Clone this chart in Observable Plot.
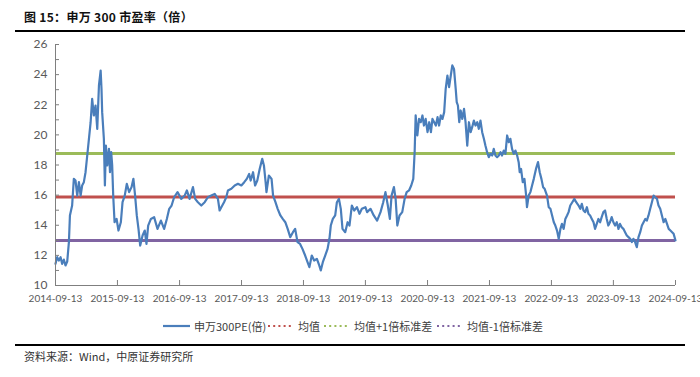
<!DOCTYPE html>
<html><head><meta charset="utf-8">
<script src="https://cdn.jsdelivr.net/npm/d3@7"></script>
<script src="https://cdn.jsdelivr.net/npm/@observablehq/plot@0.6"></script>
<style>
html,body{margin:0;padding:0;background:#fff;}
#wrap{position:relative;width:700px;height:377px;overflow:hidden;font-family:"Noto Sans CJK SC","Noto Sans",sans-serif;}
#title{position:absolute;left:24px;top:8px;font-size:12px;font-weight:bold;color:#111;letter-spacing:0.3px;}
#rule1{position:absolute;left:15px;width:670px;top:30px;height:2px;background:#000;}
#chart{position:absolute;left:0;top:34px;}
#legend{position:absolute;top:316px;left:0;width:700px;height:20px;font-size:11px;color:#404040;}
#legend .it{position:absolute;top:0;display:flex;align-items:center;height:20px;white-space:nowrap;}
#rule2{position:absolute;left:15px;width:670px;top:344px;height:1.5px;background:#000;}
#source{position:absolute;left:24px;top:348px;font-size:11px;color:#333;}
</style></head>
<body><div id="wrap">
<div id="title">图 15：申万 300 市盈率（倍）</div>
<div id="rule1"></div>
<div id="chart"></div>
<div id="legend"></div>
<div id="rule2"></div>
<div id="source">资料来源：Wind，中原证券研究所</div>
</div>
<script>
const dates = [
"2014-09-13","2014-09-23","2014-10-03","2014-10-13","2014-10-22","2014-11-01","2014-11-11","2014-11-21","2014-12-01","2014-12-07","2014-12-20","2014-12-30",
"2015-01-09","2015-01-19","2015-01-29","2015-02-08","2015-02-17","2015-02-27","2015-03-09","2015-03-19","2015-03-29","2015-04-08","2015-04-17","2015-04-27",
"2015-05-07","2015-05-17","2015-05-27","2015-06-06","2015-06-11","2015-06-15","2015-06-25","2015-07-01","2015-07-07","2015-07-15","2015-07-25","2015-07-31",
"2015-08-07","2015-08-13","2015-08-19","2015-08-27","2015-09-08","2015-09-19","2015-10-03","2015-10-13","2015-10-26","2015-11-07","2015-11-21","2015-12-05",
"2015-12-16","2015-12-26","2016-01-05","2016-01-15","2016-01-25","2016-02-08","2016-02-21","2016-03-02","2016-03-12","2016-03-28","2016-04-16","2016-05-06",
"2016-05-26","2016-06-14","2016-06-30","2016-07-14","2016-07-28","2016-08-12","2016-09-01","2016-09-23","2016-10-13","2016-10-26","2016-11-11","2016-12-01",
"2016-12-14","2016-12-30","2017-01-19","2017-02-08","2017-02-27","2017-03-19","2017-04-08","2017-04-27","2017-05-07","2017-05-17","2017-06-02","2017-06-15",
"2017-06-25","2017-07-15","2017-08-04","2017-08-23","2017-09-12","2017-09-29","2017-10-14","2017-10-28","2017-11-06","2017-11-20","2017-12-02","2017-12-15",
"2017-12-29","2018-01-13","2018-01-23","2018-02-02","2018-02-07","2018-02-21","2018-03-09","2018-03-18","2018-04-01","2018-04-14","2018-04-30","2018-05-14",
"2018-05-29","2018-06-12","2018-06-27","2018-07-13","2018-07-26","2018-08-09","2018-08-24","2018-09-07","2018-09-23","2018-10-07","2018-10-18","2018-11-01",
"2018-11-15","2018-12-01","2018-12-15","2018-12-24","2019-01-05","2019-01-19","2019-02-02","2019-02-13","2019-02-21","2019-03-05","2019-03-19","2019-03-29",
"2019-04-10","2019-04-21","2019-05-01","2019-05-17","2019-05-31","2019-06-11","2019-06-25","2019-07-09","2019-07-25","2019-08-09","2019-08-23","2019-09-13",
"2019-09-23","2019-10-13","2019-11-01","2019-11-21","2019-12-11","2019-12-27","2020-01-09","2020-01-23","2020-02-04","2020-02-14","2020-02-28","2020-03-09",
"2020-03-19","2020-04-01","2020-04-17","2020-05-01","2020-05-13","2020-05-27","2020-06-09","2020-06-21","2020-06-29","2020-07-05","2020-07-15","2020-07-25",
"2020-08-04","2020-08-14","2020-08-23","2020-09-02","2020-09-13","2020-09-23","2020-10-03","2020-10-12","2020-10-22","2020-11-01","2020-11-11","2020-11-20",
"2020-11-30","2020-12-10","2020-12-20","2020-12-29","2021-01-08","2021-01-18","2021-01-28","2021-02-06","2021-02-16","2021-02-26","2021-03-04","2021-03-11",
"2021-03-19","2021-03-27","2021-04-06","2021-04-16","2021-04-25","2021-05-05","2021-05-15","2021-05-25","2021-06-03","2021-06-13","2021-06-23","2021-07-03",
"2021-07-12","2021-07-22","2021-08-01","2021-08-11","2021-08-20","2021-08-30","2021-09-09","2021-09-19","2021-09-29","2021-10-08","2021-10-18","2021-10-28",
"2021-11-07","2021-11-17","2021-11-26","2021-12-06","2021-12-16","2021-12-26","2022-01-05","2022-01-14","2022-01-24","2022-02-03","2022-02-13","2022-02-23",
"2022-03-04","2022-03-10","2022-03-18","2022-03-28","2022-04-07","2022-04-17","2022-04-22","2022-05-02","2022-05-12","2022-05-22","2022-06-01","2022-06-14",
"2022-06-26","2022-07-06","2022-07-16","2022-07-26","2022-08-04","2022-08-18","2022-08-28","2022-09-07","2022-09-17","2022-09-27","2022-10-06","2022-10-16",
"2022-10-26","2022-11-05","2022-11-14","2022-11-24","2022-12-04","2022-12-14","2022-12-23","2023-01-02","2023-01-14","2023-01-26","2023-02-06","2023-02-20",
"2023-03-02","2023-03-11","2023-03-21","2023-03-31","2023-04-10","2023-04-19","2023-04-29","2023-05-09","2023-05-19","2023-05-28","2023-06-07","2023-06-17",
"2023-06-27","2023-07-06","2023-07-16","2023-07-26","2023-08-05","2023-08-14","2023-08-24","2023-09-03","2023-09-13","2023-09-23","2023-10-03","2023-10-13",
"2023-10-22","2023-11-01","2023-11-11","2023-11-21","2023-12-01","2023-12-11","2023-12-21","2023-12-31","2024-01-09","2024-01-19","2024-01-29","2024-02-08",
"2024-02-18","2024-02-28","2024-03-09","2024-03-19","2024-03-28","2024-04-07","2024-04-17","2024-04-27","2024-05-07","2024-05-17","2024-05-27","2024-06-05",
"2024-06-15","2024-06-25","2024-07-05","2024-07-15","2024-07-25","2024-08-04","2024-08-14","2024-08-24","2024-09-02","2024-09-13"
];
const pe = [
11.44,11.88,11.66,11.88,11.44,11.72,11.33,11.59,12.88,14.65,15.31,17.08,
16.97,15.97,16.86,15.97,16.64,16.86,17.52,18.63,19.74,20.84,22.39,21.29,
21.95,20.40,23.28,24.27,23.06,21.51,19.74,16.64,19.29,17.97,19.07,17.52,
18.85,17.97,15.97,14.20,14.42,13.65,14.20,15.53,15.97,16.75,16.20,16.53,
17.08,15.97,14.65,13.76,12.65,13.32,13.65,12.76,13.98,14.42,14.54,13.76,
14.31,13.76,14.42,15.09,15.31,15.86,16.20,15.75,15.97,16.31,15.75,16.53,
15.75,15.53,15.31,15.53,15.86,15.97,16.08,15.75,14.98,15.20,15.53,15.86,
16.31,16.42,16.64,16.75,16.64,16.86,17.08,17.41,16.97,17.52,16.64,16.97,
17.74,18.41,17.97,16.86,16.20,17.30,17.08,15.97,15.53,15.09,14.65,14.42,
14.20,13.76,13.21,13.54,13.76,12.88,12.76,12.43,11.99,11.55,11.22,11.99,
11.66,11.77,11.33,11.00,11.55,11.99,12.43,13.10,13.98,14.42,14.65,15.53,
15.75,15.09,13.76,13.54,14.20,13.98,15.31,14.98,15.20,14.76,15.09,15.20,
14.87,15.09,14.65,14.31,14.87,15.53,16.20,15.31,14.42,15.97,16.53,15.75,
13.98,14.65,14.87,15.75,16.20,16.31,16.64,17.08,18.85,21.29,19.96,21.06,
20.84,21.29,20.62,21.06,20.18,20.84,20.18,21.06,20.84,20.62,21.18,20.62,
21.29,21.06,21.51,23.06,23.94,23.17,23.94,24.61,24.38,23.06,22.17,21.95,
20.84,21.62,21.06,21.73,20.84,19.29,20.84,20.18,20.51,20.95,20.62,20.84,
20.40,20.95,20.18,19.74,19.29,18.85,18.52,18.74,18.63,19.07,18.63,18.52,
18.63,18.85,18.63,18.96,18.74,19.96,19.52,19.74,19.07,18.74,18.96,18.63,
18.19,17.52,17.74,16.86,17.08,15.97,15.20,15.97,16.20,16.64,17.08,17.74,
18.19,17.52,17.08,16.53,16.42,15.97,15.20,15.09,14.65,14.20,13.98,13.65,
13.10,13.76,14.09,13.76,14.42,14.65,14.87,15.31,15.53,15.75,15.53,15.31,
15.09,15.42,14.98,14.87,15.20,14.76,14.65,14.42,14.20,13.76,14.09,14.42,
14.20,14.54,14.87,14.98,14.42,13.98,14.20,14.54,14.20,13.98,14.20,13.76,
14.09,13.87,13.76,13.54,13.32,13.21,13.10,12.88,13.10,12.88,12.54,13.21,
13.54,13.98,14.20,14.42,14.31,14.65,15.09,15.53,15.97,15.86,15.75,15.31,
15.09,14.65,14.20,14.42,14.09,13.76,13.65,13.54,13.43,12.99
];
const meanPE = 15.87;
const sdPE = 2.89;
const xTickLabels = ["2014-09-13","2015-09-13","2016-09-13","2017-09-13","2018-09-13","2019-09-13","2020-09-13","2021-09-13","2022-09-13","2023-09-13","2024-09-13"];
const yTickLabels = [10,12,14,16,18,20,22,24,26];
const yMinorTicks = [10,11,12,13,14,15,16,17,18,19,20,21,22,23,24,25,26];
const seriesNames = ["申万300PE(倍)","均值","均值+1倍标准差","均值-1倍标准差"];
const seriesColors = ["#4a7ebb","#c0504d","#9bbb59","#8064a2"];

const data = dates.map((d, i) => ({date: new Date(d), pe: pe[i]}));
const xTicks = xTickLabels.map(d => new Date(d));
const levels = [
  {v: meanPE, c: seriesColors[1]},
  {v: meanPE + sdPE, c: seriesColors[2]},
  {v: meanPE - sdPE, c: seriesColors[3]}
];

const chart = Plot.plot({
  width: 700,
  height: 281,
  marginLeft: 55,
  marginRight: 25,
  marginTop: 10,
  marginBottom: 30,
  style: {fontFamily: "Lato, sans-serif", fontSize: "10px", color: "#595959", background: "transparent"},
  x: {type: "utc", domain: [xTicks[0], xTicks[xTicks.length - 1]]},
  y: {domain: [10, 26]},
  marks: [
    Plot.ruleY(levels, {y: "v", stroke: "c", strokeWidth: 3}),
    Plot.line(data, {x: "date", y: "pe", stroke: seriesColors[0], strokeWidth: 2.2, strokeLinejoin: "round"}),
    Plot.ruleX([xTicks[0]], {stroke: "#7f7f7f", strokeWidth: 1}),
    Plot.ruleY([10], {stroke: "#7f7f7f", strokeWidth: 1}),
    Plot.axisY({ticks: yMinorTicks, tickSize: -4, text: null, stroke: "#7f7f7f", label: null}),
    Plot.axisY({ticks: yTickLabels, tickSize: 0, tickPadding: 8, fontSize: 12, fill: "#595959", label: null}),
    Plot.axisX({ticks: xTicks, tickSize: -5, text: null, stroke: "#7f7f7f", label: null}),
    Plot.axisX({ticks: xTicks, tickSize: 0, tickPadding: 9, fontSize: 10, fill: "#595959", tickFormat: d3.utcFormat("%Y-%m-%d"), label: null})
  ]
});
document.getElementById("chart").appendChild(chart);

// legend
const legend = document.getElementById("legend");
const legendLayout = [
  {x: 163, dash: null},
  {x: 267, dash: "2,3.2"},
  {x: 323, dash: "2,3.2"},
  {x: 436, dash: "2,3.2"}
];
seriesNames.forEach((name, i) => {
  const it = document.createElement("div");
  it.className = "it";
  it.style.left = legendLayout[i].x + "px";
  const w = 27;
  const dash = legendLayout[i].dash;
  it.innerHTML = `<svg width="${w}" height="6" style="margin-right:4px"><line x1="${dash ? 1 : 0}" y1="3" x2="${w}" y2="3" stroke="${seriesColors[i]}" stroke-width="${dash ? 2.2 : 2.2}" ${dash ? `stroke-dasharray="${dash}"` : ""}/></svg><span>${name}</span>`;
  legend.appendChild(it);
});
</script>
</body></html>
